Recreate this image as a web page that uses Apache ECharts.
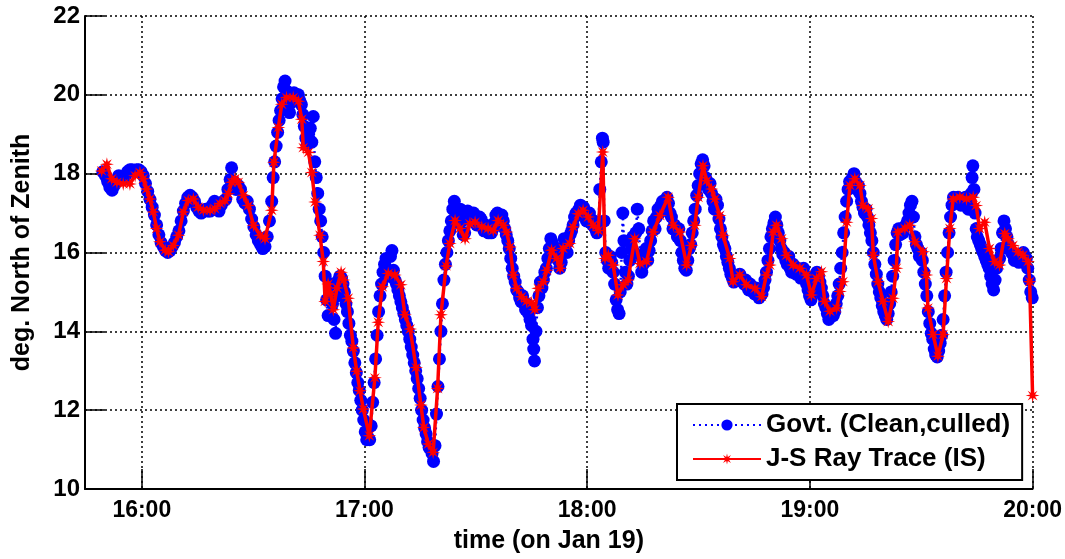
<!DOCTYPE html>
<html><head><meta charset="utf-8">
<script src="https://cdn.jsdelivr.net/npm/echarts@6/dist/echarts.min.js"></script>
<style>html,body{margin:0;padding:0;background:#fff}#c{width:1065px;height:559px}</style>
</head><body><div id="c"></div>
<script>
// x values: minutes after 15:00 on Jan 19
const xMin = 44.7, xMax = 300;
const xTickMinutes = [60, 120, 180, 240, 300];
const xTickLabels = ['16:00', '17:00', '18:00', '19:00', '20:00'];
const yMin = 10, yMax = 22, yStep = 2;

const govtTime = [
49.5,50.2,50.8,51.4,52.0,52.6,53.2,53.8,54.4,55.0,55.6,56.2,56.8,57.4,58.0,58.6,59.2,59.8,
60.4,61.0,61.6,62.2,62.8,63.4,64.0,64.6,65.2,65.8,66.4,67.0,67.6,68.2,68.8,69.4,70.0,70.6,71.2,71.8,72.4,73.0,73.6,74.2,74.8,75.4,76.0,76.6,77.2,77.8,78.4,79.0,79.6,
80.2,80.8,81.4,82.0,82.6,83.2,83.8,84.2,84.8,85.4,86.0,86.6,87.2,87.8,88.4,89.0,89.6,90.2,90.8,91.4,92.0,92.6,93.2,93.8,94.4,95.0,95.4,95.8,96.2,96.6,97.0,97.4,97.8,98.2,98.6,99.0,99.4,99.8,
100.2,100.6,101.0,101.4,101.8,102.2,102.6,103.0,103.4,103.8,104.2,104.6,105.0,105.4,105.8,106.2,106.6,107.0,107.4,107.8,108.2,108.6,109.0,109.4,109.8,110.2,110.6,111.0,111.4,111.8,112.2,112.6,113.0,113.4,113.8,114.2,114.6,115.0,115.4,115.8,116.2,116.6,117.0,117.4,117.8,118.2,118.6,119.0,119.4,119.8,
120.2,120.6,121.0,121.4,121.8,122.2,122.6,123.0,123.4,123.8,124.2,124.6,125.0,125.4,125.8,126.2,126.6,127.0,127.4,127.8,128.2,128.6,129.0,129.4,129.8,130.2,130.6,131.0,131.4,131.8,132.2,132.6,133.0,133.4,133.8,134.2,134.6,135.0,135.4,135.8,136.2,136.6,137.0,137.4,137.8,138.2,138.6,139.0,139.4,139.8,
140.2,140.6,141.0,141.4,141.8,142.2,142.6,143.0,143.4,143.8,144.2,144.6,145.0,145.4,145.8,146.2,146.6,147.0,147.4,147.8,148.2,148.6,149.0,149.4,149.8,150.2,150.6,151.0,151.4,151.8,152.2,152.6,153.0,153.4,153.8,154.2,154.6,155.0,155.4,155.8,156.2,156.6,157.0,157.4,157.8,158.2,158.6,159.0,159.4,159.8,
160.2,160.6,161.0,161.4,161.8,162.2,162.6,163.0,163.4,163.8,164.2,164.6,165.0,165.4,165.6,165.8,166.2,166.6,167.0,167.4,167.8,168.2,168.6,169.0,169.4,169.8,170.2,170.6,171.0,171.4,171.8,172.2,172.6,173.0,173.4,173.8,174.2,174.6,175.0,175.4,175.8,176.2,176.6,177.0,177.4,177.8,178.2,178.6,179.0,179.4,179.8,
180.2,180.6,181.0,181.4,181.8,182.2,182.6,183.0,183.4,183.8,184.1,184.3,184.6,185.0,185.4,185.8,186.2,186.6,187.0,187.4,187.8,188.2,188.6,188.9,189.3,189.6,189.9,190.3,190.7,191.1,191.5,191.9,192.3,192.7,193.1,193.5,193.9,194.3,194.7,195.1,195.5,195.9,196.3,196.7,197.1,197.5,197.9,198.3,198.7,199.1,199.5,199.9,
200.3,200.7,201.1,201.5,201.9,202.3,202.7,203.1,203.5,203.9,204.3,204.7,205.1,205.5,205.9,206.3,206.7,207.1,207.5,207.9,208.3,208.7,209.1,209.5,209.9,210.3,210.7,211.1,211.5,211.9,212.3,212.7,213.1,213.5,213.9,214.3,214.7,215.1,215.5,215.9,216.3,216.7,217.1,217.5,217.9,218.3,218.7,219.1,219.5,219.9,
220.3,220.7,221.1,221.5,221.9,222.3,222.7,223.1,223.5,223.9,224.3,224.7,225.1,225.5,225.9,226.3,226.7,227.1,227.5,227.9,228.3,228.7,229.1,229.5,229.9,230.3,230.7,231.1,231.5,231.9,232.3,232.7,233.1,233.5,233.9,234.3,234.7,235.1,235.5,235.9,236.3,236.7,237.1,237.5,237.9,238.3,238.7,239.1,239.5,239.9,
240.3,240.7,241.1,241.5,241.9,242.3,242.7,243.1,243.5,243.9,244.3,244.7,245.1,245.5,245.9,246.3,246.7,247.1,247.5,247.9,248.3,248.7,249.1,249.5,249.9,250.3,250.7,251.1,251.5,251.9,252.3,252.7,253.1,253.5,253.9,254.3,254.7,255.1,255.5,255.9,256.3,256.7,257.1,257.5,257.9,258.3,258.7,259.1,259.5,259.9,
260.3,260.7,261.1,261.5,261.9,262.3,262.7,263.1,263.5,263.9,264.3,264.7,265.1,265.5,265.9,266.3,266.7,267.1,267.5,267.9,268.3,268.7,269.1,269.5,269.9,270.3,270.7,271.1,271.5,271.9,272.3,272.7,273.1,273.5,273.9,274.3,274.7,275.1,275.5,275.9,276.3,276.7,277.1,277.5,277.9,278.3,278.7,279.1,279.5,279.9,
280.3,280.7,281.1,281.5,281.9,282.3,282.7,283.1,283.5,283.7,283.9,284.2,284.5,284.8,285.1,285.5,285.9,286.3,286.7,287.1,287.5,287.9,288.3,288.7,289.1,289.5,289.9,290.3,290.7,291.1,291.5,291.9,292.3,292.7,293.1,293.5,293.9,294.3,294.7,295.1,295.5,295.9,296.3,296.7,297.1,297.5,297.9,298.3,298.7,299.1,299.5,299.9
];
const govtDeg = [
18.05,17.95,17.8,17.65,17.58,17.7,17.85,17.95,17.9,17.85,17.95,18.05,18.1,18.1,18.05,18.1,18.1,18.05,
17.95,17.75,17.55,17.35,17.15,16.95,16.7,16.45,16.25,16.15,16.05,16.0,16.05,16.15,16.25,16.4,16.55,16.8,17.05,17.25,17.4,17.45,17.4,17.3,17.15,17.05,17.0,17.05,17.1,17.05,17.05,17.2,17.3,
17.1,17.05,17.2,17.3,17.35,17.6,17.85,18.15,17.8,17.6,17.7,17.6,17.35,17.25,17.3,17.1,16.85,16.65,16.45,16.3,16.2,16.1,16.15,16.4,16.8,17.3,17.9,18.3,18.7,19.05,19.35,19.6,19.9,20.2,20.35,20.1,19.7,19.55,
19.8,20.0,20.05,19.9,19.95,20.0,19.85,19.75,19.5,19.2,18.9,18.75,18.9,19.15,18.8,19.45,18.3,17.9,17.5,17.1,16.8,16.4,16.0,15.4,14.8,14.4,14.9,15.2,14.7,14.3,13.95,14.9,15.3,15.4,15.35,15.2,15.0,14.7,14.5,14.2,13.9,13.75,13.5,13.2,12.95,12.7,12.5,12.25,12.0,11.75,
11.45,11.25,11.3,11.25,11.6,12.2,12.7,13.3,13.9,14.5,14.9,15.2,15.5,15.7,15.85,15.55,15.4,15.9,16.05,15.55,15.3,15.2,15.05,14.9,14.75,14.6,14.45,14.3,14.15,14.0,13.8,13.6,13.4,13.2,13.0,12.8,12.55,12.3,12.0,11.75,11.55,11.4,11.2,11.05,11.15,10.9,10.7,11.1,11.9,12.6,
13.3,14.0,14.7,15.3,15.7,16.0,16.3,16.55,16.8,17.1,17.3,17.0,16.75,16.9,17.1,16.8,16.45,16.5,16.85,17.05,17.0,16.9,16.95,17.0,16.85,16.7,16.75,16.9,16.85,16.65,16.55,16.7,16.6,16.5,16.65,16.5,16.6,16.75,16.95,17.0,16.9,16.8,16.95,16.8,16.6,16.45,16.3,16.1,15.85,15.6,
15.4,15.25,15.05,15.0,14.85,14.75,14.9,14.7,14.55,14.7,14.45,14.3,14.15,13.8,13.55,13.25,14.0,14.6,14.9,15.25,15.1,15.3,15.5,15.6,15.85,16.1,16.35,16.25,16.0,15.9,16.1,15.8,15.6,15.75,16.1,16.35,16.2,16.0,16.3,16.45,16.55,16.7,16.9,17.0,16.95,17.1,17.2,17.0,17.15,17.05,16.8,
16.95,17.0,16.85,16.7,16.8,16.6,16.5,16.65,17.6,18.3,18.9,18.8,16.8,16.0,15.8,15.6,15.9,15.75,15.5,15.2,14.8,14.55,14.45,15.0,16.0,17.0,16.3,15.5,15.2,15.4,15.8,16.1,16.4,16.0,16.5,17.1,16.6,15.9,15.5,15.7,15.9,16.1,15.8,16.05,16.3,16.55,16.8,16.6,16.9,17.1,17.0,17.2,
17.3,17.1,17.3,17.4,17.25,17.0,16.9,16.6,16.7,16.55,16.4,16.6,16.3,16.0,15.8,15.6,15.55,15.8,16.1,16.2,16.5,16.8,17.1,17.45,17.7,18.0,18.25,18.35,18.2,17.9,17.7,17.6,17.75,17.5,17.3,17.1,17.35,17.2,16.85,16.6,16.4,16.2,16.1,15.9,15.75,15.6,15.45,15.35,15.25,15.35,
15.4,15.3,15.45,15.35,15.25,15.2,15.3,15.15,15.05,15.2,15.1,15.0,14.95,15.1,14.95,14.85,14.9,14.95,15.1,15.3,15.5,15.8,16.1,16.4,16.6,16.75,16.9,16.7,16.5,16.3,16.1,15.95,16.0,15.8,15.7,15.9,15.6,15.5,15.7,15.55,15.45,15.6,15.45,15.35,15.5,15.6,15.4,15.2,15.05,14.9,
14.8,15.0,15.25,15.3,15.5,15.4,15.25,15.1,14.9,14.7,14.6,14.45,14.3,14.5,14.6,14.4,14.5,14.7,14.9,15.2,15.6,16.0,16.5,16.9,17.3,17.6,17.8,17.7,17.9,18.0,17.8,17.6,17.7,17.5,17.3,17.15,17.0,17.1,16.9,16.7,16.5,16.3,16.0,15.7,15.45,15.2,15.0,14.85,14.65,14.5,
14.4,14.3,14.45,14.7,15.0,15.4,15.8,16.2,16.5,16.6,16.45,16.6,16.5,16.65,16.7,16.8,17.0,17.2,17.3,16.9,16.4,16.2,16.1,15.9,16.0,15.8,15.5,15.2,14.9,14.5,14.2,13.95,13.8,13.55,13.4,13.35,13.5,13.7,13.9,14.3,14.9,15.5,16.0,16.5,16.9,17.2,17.4,17.35,17.3,17.4,
17.35,17.2,17.3,17.25,17.4,17.2,17.1,17.3,17.5,17.9,18.2,17.6,17.0,16.6,16.4,16.3,16.2,16.1,16.0,15.9,15.8,15.7,15.6,15.4,15.2,15.05,15.3,15.6,15.8,15.85,16.1,16.5,16.8,16.6,16.4,16.2,16.1,16.0,15.95,15.8,15.9,15.85,15.75,15.8,15.95,16.0,15.9,15.85,15.6,15.3,15.0,14.85
];

const rayTime = [
49.2,50.6,51.9,53.3,55.0,56.8,58.2,59.5,60.4,61.3,62.2,63.1,64.0,64.9,66.3,67.2,68.5,69.9,71.2,72.5,73.9,75.2,76.6,78.4,79.7,
81.1,82.4,83.3,84.2,85.1,86.0,87.4,88.7,90.1,91.9,93.2,95.0,95.6,96.8,97.7,99.0,100.8,102.2,103.1,103.5,104.9,105.8,106.7,108.0,108.9,
109.4,110.2,110.9,111.6,112.6,113.7,114.4,115.6,117.0,117.9,118.8,119.7,121.3,122.8,123.7,124.8,126.4,128.2,129.8,130.9,132.3,133.9,135.2,136.0,137.2,
138.5,139.7,140.6,142.0,143.0,144.4,145.7,147.1,148.4,149.8,151.6,153.3,154.7,156.0,157.4,158.3,159.2,160.1,161.0,162.3,163.7,165.0,165.9,166.8,168.2,
169.1,170.4,171.8,172.7,173.5,175.3,176.2,177.6,178.9,180.3,181.6,183.0,184.2,184.8,185.7,187.0,188.3,189.7,191.0,192.8,194.2,196.0,197.8,199.6,201.8,
203.2,205.0,206.8,208.1,209.0,209.9,211.2,212.2,213.5,214.4,215.7,216.6,218.4,219.3,221.1,222.9,225.2,227.0,228.3,229.2,230.1,231.0,232.4,233.7,235.5,
237.3,239.1,240.4,241.8,243.1,244.0,245.4,247.2,248.1,248.9,249.9,250.8,252.1,253.5,254.3,255.7,256.6,257.1,258.4,259.7,261.1,262.4,263.3,263.7,265.6,
266.9,268.3,270.5,271.4,271.8,273.2,274.5,275.9,276.8,277.7,278.6,280.4,282.2,284.0,284.8,285.7,287.1,288.4,289.8,291.1,292.5,293.4,294.7,296.1,297.4,
298.8,299.2,300.0
];
const rayDeg = [
18.07,18.24,17.87,17.78,17.74,17.74,17.95,18.03,17.87,17.61,17.36,17.03,16.61,16.27,16.06,16.02,16.18,16.44,17.03,17.32,17.36,17.15,17.07,17.07,17.11,
17.24,17.32,17.49,17.78,17.87,17.78,17.45,17.19,16.69,16.44,16.35,17.07,18.29,19.17,19.76,19.93,19.93,19.84,19.38,18.66,18.54,18.03,17.28,16.44,15.77,
14.76,15.20,14.95,14.55,15.10,15.50,15.30,14.84,13.58,12.99,12.49,12.03,11.35,12.82,14.23,15.13,15.47,15.43,15.18,14.42,14.06,13.08,12.13,11.56,11.14,
10.93,12.55,14.42,15.66,16.23,16.81,16.61,16.35,16.73,16.77,16.65,16.61,16.56,16.81,16.69,16.52,16.14,15.43,15.09,14.88,14.76,14.72,14.55,15.09,15.26,
15.55,16.06,15.85,15.60,16.10,16.23,16.65,16.98,17.07,16.90,16.69,16.56,18.55,15.85,15.93,15.68,14.92,15.18,15.30,16.35,15.72,15.77,16.52,16.94,17.40,
16.69,16.52,15.68,16.18,16.69,17.40,18.20,17.82,17.61,17.36,16.94,16.44,15.85,15.26,15.43,15.18,15.09,14.88,15.43,15.68,16.52,16.69,16.35,15.93,15.68,
15.60,15.43,14.92,15.34,15.51,14.76,14.51,14.59,15.01,15.26,16.77,17.70,17.87,17.70,17.19,17.11,16.86,15.93,15.26,14.76,14.25,14.84,15.60,16.52,16.61,
16.69,16.27,16.02,15.43,14.59,13.92,13.37,13.92,15.34,16.61,17.36,17.40,17.36,17.40,17.19,16.61,16.77,16.10,15.77,15.68,16.48,16.35,16.18,16.02,15.93,
15.77,15.26,12.37
];

const govtData = govtTime.map((t, i) => [t, govtDeg[i]]);
const rayData = rayTime.map((t, i) => [t, rayDeg[i]]);

const FONT = "'Liberation Sans', Arial, sans-serif";
const starPath = 'path://M20,10L13.51,11.45L17.07,17.07L11.45,13.51L10,20L8.55,13.51L2.93,17.07L6.49,11.45L0,10L6.49,8.55L2.93,2.93L8.55,6.49L10,0L11.45,6.49L17.07,2.93L13.51,8.55Z';

const chart = echarts.init(document.getElementById('c'), null, {renderer: 'canvas'});
chart.setOption({
  animation: false,
  backgroundColor: '#fff',
  grid: {left: 85, right: 31, top: 16, bottom: 66, containLabel: false},
  legend: {
    orient: 'vertical', left: 677, top: 404,
    padding: [8, 12, 8, 15], itemGap: 8,
    itemWidth: 68, itemHeight: 14,
    borderColor: '#000', borderWidth: 2, backgroundColor: '#fff',
    textStyle: {fontFamily: FONT, fontWeight: 'bold', fontSize: 26, color: '#000'},
    data: ['Govt. (Clean,culled)', 'J-S Ray Trace (IS)']
  },
  xAxis: {
    type: 'value', min: xMin, max: xMax,
    name: 'time (on Jan 19)', nameLocation: 'middle', nameGap: 40,
    nameTextStyle: {fontFamily: FONT, fontWeight: 'bold', fontSize: 25, color: '#000', padding: [0, 20, 0, 0]},
    axisLine: {show: true, onZero: false, lineStyle: {color: '#000', width: 2}},
    axisTick: {show: true, inside: true, length: 20, customValues: xTickMinutes, lineStyle: {color: '#000', width: 1.5}},
    axisLabel: {customValues: xTickMinutes, margin: 10, fontFamily: FONT, fontWeight: 'bold', fontSize: 23, color: '#000',
      formatter: v => { const i = xTickMinutes.indexOf(Math.round(v)); return i >= 0 ? xTickLabels[i] : ''; }},
    splitLine: {show: true, lineStyle: {color: '#000', width: 1.5, type: [2, 3]}}
  },
  yAxis: {
    type: 'value', min: yMin, max: yMax, interval: yStep,
    name: 'deg. North of Zenith', nameLocation: 'middle', nameGap: 50,
    nameTextStyle: {fontFamily: FONT, fontWeight: 'bold', fontSize: 25, color: '#000'},
    axisLine: {show: true, onZero: false, lineStyle: {color: '#000', width: 2}},
    axisTick: {show: true, inside: true, length: 20, lineStyle: {color: '#000', width: 1.5}},
    axisLabel: {margin: 5, fontFamily: FONT, fontWeight: 'bold', fontSize: 24, color: '#000'},
    splitLine: {show: true, lineStyle: {color: '#000', width: 1.5, type: [2, 3]}}
  },
  series: [
    {
      name: 'Govt. (Clean,culled)', type: 'line', data: govtData,
      symbol: 'circle', symbolSize: 13, showSymbol: true,
      lineStyle: {color: '#0000ff', width: 2.5, type: [2, 4]},
      itemStyle: {color: '#0000ff'},
      emphasis: {disabled: true}, z: 2
    },
    {
      name: 'J-S Ray Trace (IS)', type: 'line', data: rayData,
      symbol: starPath, symbolSize: 14, showSymbol: true,
      lineStyle: {color: '#ff0000', width: 3.5},
      itemStyle: {color: '#ff0000'},
      emphasis: {disabled: true}, z: 3
    }
  ]
});
</script>
</body></html>
